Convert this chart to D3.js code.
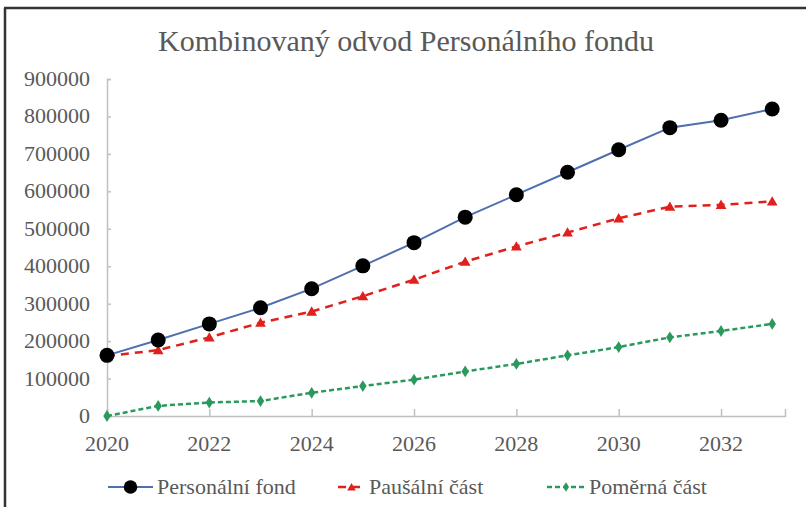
<!DOCTYPE html>
<html>
<head>
<meta charset="utf-8">
<script src="https://cdn.jsdelivr.net/npm/d3@7"></script>
<style>
  body { margin: 0; background: #fff; }
  svg text { font-family: "Liberation Serif", "DejaVu Serif", serif; fill: #595959; }
</style>
</head>
<body>
<svg id="chart" width="806" height="507"></svg>
<script>
// chart data
const years = [2020, 2021, 2022, 2023, 2024, 2025, 2026, 2027, 2028, 2029, 2030, 2031, 2032, 2033];
const personalniFond = [162000, 203000, 246000, 289000, 340000, 401000, 463000, 531000, 591000, 651000, 711000, 770000, 790000, 820000];
const pausalniCast = [160000, 176000, 210000, 249000, 279000, 320000, 364000, 412000, 453000, 490000, 528000, 559000, 564000, 573000];
const pomernaCast = [0, 27000, 36000, 40000, 62000, 80000, 97000, 119000, 139000, 162000, 184000, 210000, 227000, 246000];
const xTicks = [2020, 2022, 2024, 2026, 2028, 2030, 2032];
const yTicks = [0, 100000, 200000, 300000, 400000, 500000, 600000, 700000, 800000, 900000];
const title = "Kombinovaný odvod Personálního fondu";

const series = [
  { name: "Personální fond", values: personalniFond, color: "#4f6fae", dash: null, width: 2, marker: "circle", mcolor: "#000" },
  { name: "Paušální část", values: pausalniCast, color: "#e0201c", dash: "8,6", width: 2.5, marker: "triangle", mcolor: "#e0201c" },
  { name: "Poměrná část", values: pomernaCast, color: "#2a9a5c", dash: "5,3", width: 2.5, marker: "diamond", mcolor: "#2a9a5c" }
];

const svg = d3.select("#chart");

// frame (top + left edge of the original screenshot)
svg.append("line").attr("x1", 4).attr("x2", 806).attr("y1", 8).attr("y2", 8)
  .attr("stroke", "#333").attr("stroke-width", 2.5);
svg.append("line").attr("x1", 5).attr("x2", 5).attr("y1", 8).attr("y2", 507)
  .attr("stroke", "#333").attr("stroke-width", 2.5);

const x = d3.scaleLinear().domain([2020, 2033.25]).range([107, 785]);
const y = d3.scaleLinear().domain([0, 900000]).range([416, 79]);

// title
svg.append("text")
  .attr("x", 406).attr("y", 51)
  .attr("text-anchor", "middle")
  .style("font-size", "30px")
  .text(title);

// y axis
const yAxis = svg.append("g").attr("transform", `translate(${x(2020)},0)`)
  .call(d3.axisRight(y).tickValues(yTicks).tickSize(4).tickFormat(""));
yAxis.select(".domain").attr("stroke", "#c0c0c0").attr("stroke-width", 1.5);
yAxis.selectAll(".tick line").attr("stroke", "#c0c0c0").attr("stroke-width", 1.5);
svg.append("g").selectAll("text")
  .data(yTicks)
  .enter()
  .append("text")
  .attr("x", 90)
  .attr("y", d => y(d) + 7)
  .attr("text-anchor", "end")
  .style("font-size", "22px")
  .text(d => d);

// x axis
const xAxis = svg.append("g").attr("transform", `translate(0,${y(0)})`)
  .call(d3.axisTop(x).tickValues(xTicks).tickSize(7).tickFormat(""));
xAxis.select(".domain").attr("stroke", "#c0c0c0").attr("stroke-width", 1.5);
xAxis.selectAll(".tick line").attr("stroke", "#c0c0c0").attr("stroke-width", 1.5);
svg.append("g").selectAll("text")
  .data(xTicks)
  .enter()
  .append("text")
  .attr("x", d => x(d))
  .attr("y", 451)
  .attr("text-anchor", "middle")
  .style("font-size", "22px")
  .text(d => d);

// markers
function drawMarker(g, type, color, cx, cy, scale) {
  const s = scale || 1;
  if (type === "circle") {
    g.append("circle").attr("cx", cx).attr("cy", cy).attr("r", 7.5 * s).attr("fill", color);
  } else if (type === "triangle") {
    g.append("path").attr("d", d3.symbol().type(d3.symbolTriangle).size(50 * s * s)())
      .attr("transform", `translate(${cx},${cy + 1})`).attr("fill", color);
  } else {
    g.append("path").attr("d", d3.symbol().type(d3.symbolDiamond).size(40 * s * s)())
      .attr("transform", `translate(${cx},${cy}) scale(1.1,1)`).attr("fill", color);
  }
}

const line = d3.line().x((d, i) => x(years[i])).y(d => y(d));
const plot = svg.append("g");
// draw bottom series first so the fund line sits on top
series.slice().reverse().forEach(s => {
  const g = plot.append("g");
  g.append("path")
    .datum(s.values)
    .attr("d", line)
    .attr("fill", "none")
    .attr("stroke", s.color)
    .attr("stroke-width", s.width)
    .attr("stroke-dasharray", s.dash);
  s.values.forEach((v, i) => drawMarker(g, s.marker, s.mcolor, x(years[i]), y(v)));
});

// legend
const legendItems = [
  { lx: 108, tx: 157 },
  { lx: 338, tx: 369 },
  { lx: 547, tx: 589 }
];
series.forEach((s, i) => {
  const it = legendItems[i];
  const g = svg.append("g");
  const len = it.tx - it.lx - 4;
  g.append("line")
    .attr("x1", it.lx).attr("x2", it.lx + len)
    .attr("y1", 487).attr("y2", 487)
    .attr("stroke", s.color).attr("stroke-width", s.width)
    .attr("stroke-dasharray", s.dash);
  drawMarker(g, s.marker, s.mcolor, it.lx + len / 2, 487, i === 0 ? 0.9 : 0.8);
  g.append("text")
    .attr("x", it.tx).attr("y", 494)
    .style("font-size", "22px")
    .text(s.name);
});
</script>
</body>
</html>
